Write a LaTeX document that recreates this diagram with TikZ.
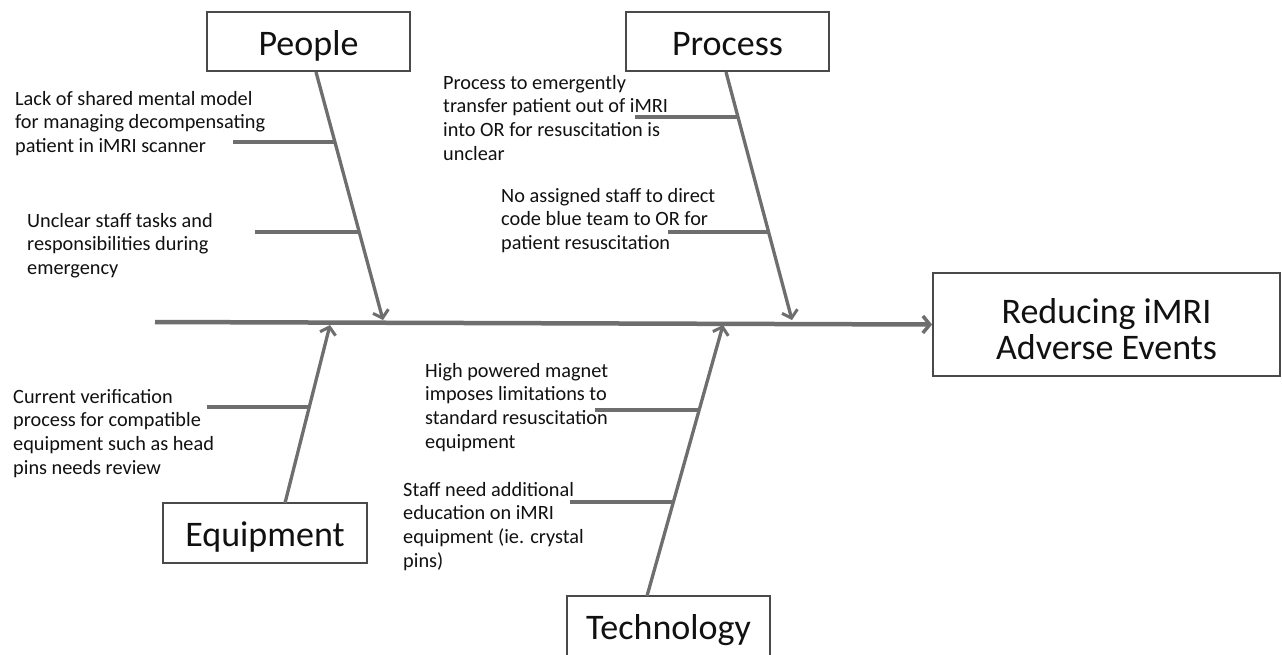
\documentclass[tikz,border=0pt]{standalone}
\usepackage{fontspec}
\setmainfont{Carlito}
\usetikzlibrary{arrows.meta}
\definecolor{bone}{HTML}{6e6e6e}
\definecolor{frame}{HTML}{4a4a4a}
\definecolor{ink}{HTML}{111111}
\begin{document}
\begin{tikzpicture}[x=1pt,y=-1pt,
  catbox/.style={draw=frame,line width=1.8pt,fill=white,text=ink,font=\fontsize{36}{40}\selectfont,inner sep=0pt,text height=31pt,text depth=4pt},
  cause/.style={anchor=north west,align=left,inner sep=0pt,text=ink,font=\fontsize{20.3}{23.6}\selectfont},
  spineline/.style={draw=bone,line width=4.5pt,-{Straight Barb[length=7pt,width=17pt,line width=3.5pt]}},
  boneline/.style={draw=bone,line width=3.3pt,-{Straight Barb[length=7pt,width=16pt,line width=3pt]}},
  subline/.style={draw=bone,line width=3.3pt}]
\useasboundingbox (0,0) rectangle (1282,654);
\fill[white] (0,0) rectangle (1282,654);

% boxes
\node[catbox,minimum width=203pt,minimum height=59pt] (people) at (308.5,41.5) {People};
\node[catbox,minimum width=203pt,minimum height=59pt] (process) at (727.5,41.5) {Process};
\node[catbox,minimum width=204pt,minimum height=60pt] (equip) at (265,533) {Equipment};
\node[catbox,minimum width=203pt,minimum height=60pt] (tech) at (668.5,626) {Technology};
\node[draw=frame,line width=1.8pt,fill=white,minimum width=347pt,minimum height=103pt,inner sep=0pt,
  label={[yshift=-5pt,align=center,text=ink,font=\fontsize{36}{36}\selectfont]center:Reducing iMRI\\Adverse Events}] (result) at (1106.5,324.5) {};

% spine
\coordinate (tail) at (155,322);
\draw[spineline] (tail) -- (result.west);

% bone coordinates
\coordinate (pA) at (316,72);   \coordinate (pB) at (383,320);
\coordinate (rA) at (726,72);   \coordinate (rB) at (792,320);
\coordinate (eA) at (285,503);  \coordinate (eB) at (330,325);
\coordinate (tA) at (647,596);  \coordinate (tB) at (723,325);

\draw[boneline] (pA) -- (pB);
\draw[boneline] (rA) -- (rB);
\draw[boneline] (eA) -- (eB);
\draw[boneline] (tA) -- (tB);

% sub-branches
\coordinate (p1) at (233,142); \coordinate (p1e) at (334,142);
\coordinate (p2) at (255,232); \coordinate (p2e) at (358,232);
\coordinate (r1) at (635,117); \coordinate (r1e) at (738,117);
\coordinate (r2) at (668,232); \coordinate (r2e) at (768,232);
\coordinate (e1) at (207,407); \coordinate (e1e) at (309,407);
\coordinate (t1) at (595,410); \coordinate (t1e) at (699,410);
\coordinate (t2) at (570,502); \coordinate (t2e) at (672,502);
\foreach \a/\b in {p1/p1e,p2/p2e,r1/r1e,r2/r2e,e1/e1e,t1/t1e,t2/t2e}
  \draw[subline] (\a) -- (\b);

% causes
\node[cause] (c1) at (15,91) {Lack of shared mental model\\for managing decompensating\\patient in iMRI scanner};
\node[cause] (c2) at (27,213) {Unclear staff tasks and\\responsibilities during\\emergency};
\node[cause] (c3) at (443,75) {Process to emergently\\transfer patient out of iMRI\\into OR for resuscitation is\\unclear};
\node[cause] (c4) at (501,188) {No assigned staff to direct\\code blue team to OR for\\patient resuscitation};
\node[cause] (c5) at (13,389) {Current verification\\process for compatible\\equipment such as head\\pins needs review};
\node[cause] (c6) at (425,363) {High powered magnet\\imposes limitations to\\standard resuscitation\\equipment};
\node[cause] (c7) at (403,482) {Staff need additional\\education on iMRI\\equipment (ie. crystal\\pins)};
\end{tikzpicture}
\end{document}
